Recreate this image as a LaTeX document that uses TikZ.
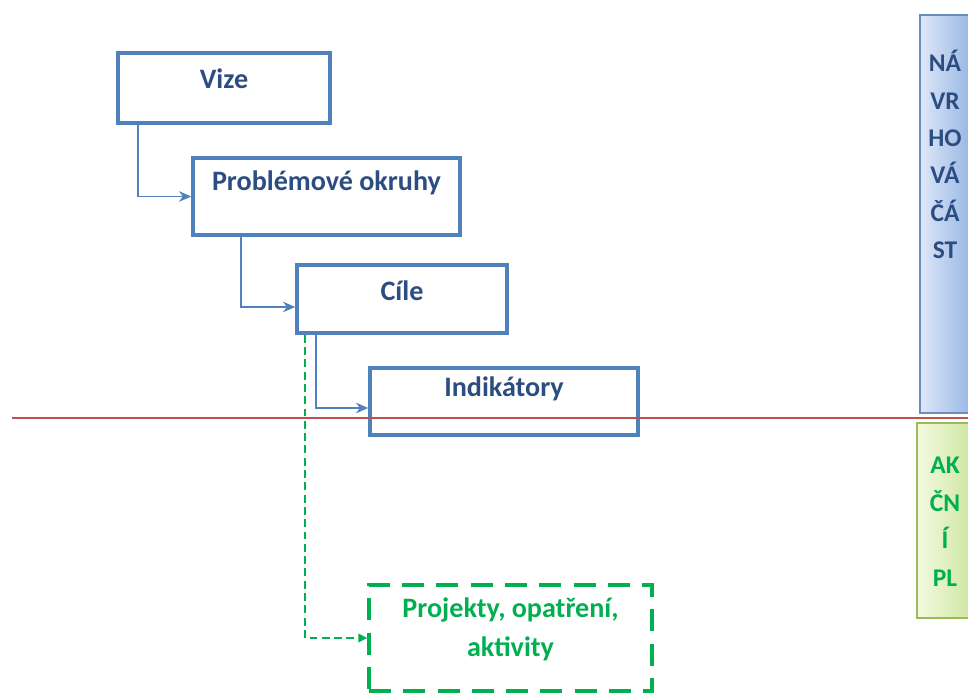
\documentclass[tikz,border=0pt]{standalone}
\usepackage{fontspec}
\setmainfont{Carlito}
\usepackage{tikz}
\usetikzlibrary{arrows.meta, positioning, calc}
\usepackage{xcolor}
\definecolor{boxblue}{RGB}{79,129,189}
\definecolor{textblue}{RGB}{44,77,130}
\definecolor{actgreen}{RGB}{0,176,80}
\definecolor{cutred}{RGB}{192,80,77}
\definecolor{navlight}{RGB}{222,232,249}
\definecolor{navdark}{RGB}{146,178,226}
\definecolor{navedge}{RGB}{106,140,192}
\definecolor{aplight}{RGB}{244,250,224}
\definecolor{apdark}{RGB}{204,229,158}
\definecolor{apedge}{RGB}{155,187,89}
\tikzstyle{level} = [rectangle, draw=boxblue, line width=2pt, fill=white]
\tikzstyle{levellabel} = [font=\fontsize{16}{19}\selectfont\bfseries, text=textblue]
\tikzstyle{action} = [rectangle, draw=actgreen, line width=2.2pt, dash pattern=on 12.5pt off 7pt]
\tikzstyle{actionlabel} = [font=\fontsize{16}{20}\selectfont\bfseries, text=actgreen, align=center]
\tikzstyle{link} = [draw=boxblue, line width=0.85pt, -{Stealth[length=7pt,width=6pt]}]
\tikzstyle{actlink} = [draw=actgreen, line width=0.9pt, dash pattern=on 4.5pt off 2.5pt, -{Triangle[length=5pt,width=5pt]}]
\tikzstyle{sidelabel} = [font=\fontsize{14.5}{21.3}\selectfont\bfseries, align=center]

\begin{document}
\begin{tikzpicture}

\useasboundingbox (0,0) rectangle (19.36,-13.86);

% Side bands
\node[rectangle, draw=navedge, line width=0.8pt, left color=navlight, right color=navdark, minimum width=1.1cm, minimum height=7.96cm, inner sep=0pt] (navrh) at (18.95,-4.28) {};
\node[sidelabel, text=textblue, anchor=north] (navrhtext) at (18.90,-0.88) {NÁ\\VR\\HO\\VÁ\\ČÁ\\ST};
\node[rectangle, draw=apedge, line width=0.8pt, left color=aplight, right color=apdark, minimum width=1.16cm, minimum height=3.9cm, inner sep=0pt] (akcni) at (18.92,-10.41) {};
\node[sidelabel, text=actgreen, anchor=north] (akcnitext) at (18.90,-9.02) {AK\\ČN\\Í\\PL};

% Levels
\node[level, minimum width=4.24cm, minimum height=1.40cm] (vize) at (4.48,-1.76) {};
\node[levellabel] (vizetext) at ([yshift=-0.54cm]vize.north) {Vize};

\node[level, minimum width=5.34cm, minimum height=1.54cm] (okruhy) at (6.53,-3.93) {};
\node[levellabel] (okruhytext) at ([yshift=-0.54cm]okruhy.north) {Problémové okruhy};

\node[level, minimum width=4.20cm, minimum height=1.36cm] (cile) at (8.04,-5.98) {};
\node[levellabel] (ciletext) at ([yshift=-0.54cm]cile.north) {Cíle};

\node[level, minimum width=5.36cm, minimum height=1.34cm] (indik) at (10.08,-8.03) {};
\node[levellabel] (indiktext) at ([yshift=-0.46cm]indik.north) {Indikátory};

% Action plan
\node[action, minimum width=5.66cm, minimum height=2.12cm] (projekty) at (10.21,-12.76) {};
\node[actionlabel] (projektytext) at (10.21,-12.59) {Projekty, opatření,\\[2pt]aktivity};

% Links
\draw[link] ([xshift=0.44cm]vize.south west) |- (okruhy.west);
\draw[link] ([xshift=1.0cm]okruhy.south west) |- ([yshift=-0.16cm]cile.west);
\draw[link] ([xshift=0.42cm]cile.south west) |- ([yshift=-0.13cm]indik.west);
\draw[actlink] ([xshift=0.20cm]cile.south west) |- (projekty.west);

% Dividing line
\coordinate (cutL) at (0.24,-8.36);
\coordinate (cutR) at (19.36,-8.36);
\draw[cutred, line width=1.5pt] (cutL) -- (cutR);

\end{tikzpicture}
\end{document}
